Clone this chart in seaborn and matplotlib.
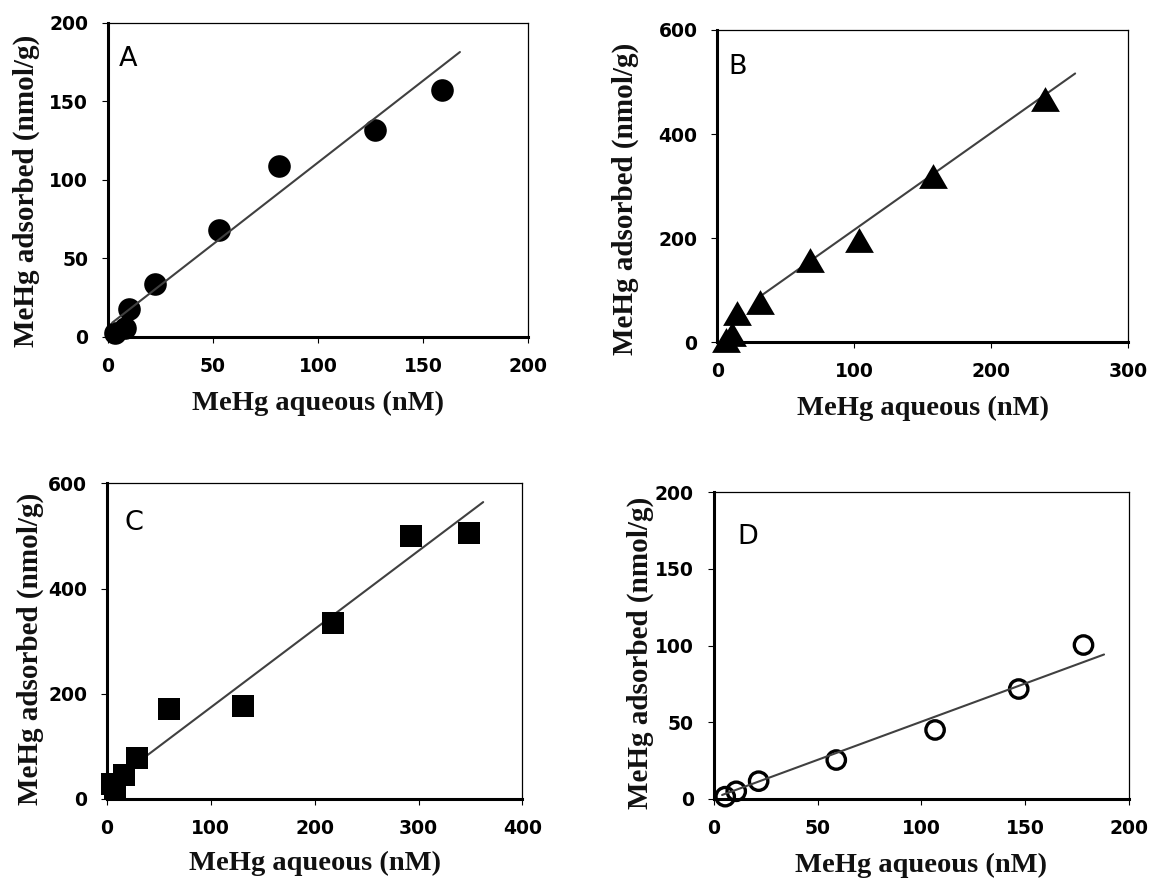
import numpy as np
import pandas as pd
import matplotlib
matplotlib.use("Agg")
import matplotlib.pyplot as plt
from matplotlib.path import Path
import seaborn as sns

# ---------------- data ----------------
a_x = [3.3, 8.3, 9.8, 22.6, 52.8, 81.5, 127.3, 159.3]
a_y = [2.5, 5.6, 17.6, 33.9, 68.2, 109.1, 131.8, 157.2]
a_fit = [1.04, 7.0]          # slope, intercept
a_fit_x = [2.0, 167.6]

b_x = [6.0, 11.0, 14.5, 31.1, 67.5, 103.8, 157.3, 239.7]
b_y = [5.0, 15.0, 56.0, 78.1, 157.5, 196.6, 319.5, 466.5]
b_fit = [1.86, 30.0]
b_fit_x = [31.0, 261.5]

c_x = [5.0, 8.0, 16.7, 28.6, 60.2, 130.7, 217.4, 293.0, 348.1]
c_y = [28.0, 19.0, 45.6, 77.5, 171.1, 176.8, 335.2, 499.0, 506.2]
c_fit = [1.488, 25.3]
c_fit_x = [28.6, 362.2]

d_x = [5.5, 10.8, 21.6, 59.0, 106.6, 146.9, 178.1]
d_y = [1.5, 5.0, 11.6, 25.4, 45.0, 71.7, 100.4]
d_fit = [0.498, 0.6]
d_fit_x = [4.0, 188.0]

panel_letters = ["A", "B", "C", "D"]
x_label = "MeHg aqueous (nM)"
y_label = "MeHg adsorbed (nmol/g)"
a_xticks = [0, 50, 100, 150, 200]
a_yticks = [0, 50, 100, 150, 200]
b_xticks = [0, 100, 200, 300]
b_yticks = [0, 200, 400, 600]
c_xticks = [0, 100, 200, 300, 400]
c_yticks = [0, 200, 400, 600]
d_xticks = [0, 50, 100, 150, 200]
d_yticks = [0, 50, 100, 150, 200]

# ---------------- style ----------------
sns.set_theme(style="ticks")
plt.rcParams['font.family'] = ['DejaVu Sans']

tri = Path([(0, 0.86), (-1, -0.86), (1, -0.86), (0, 0.86)],
           [Path.MOVETO, Path.LINETO, Path.LINETO, Path.CLOSEPOLY])

panels = [
    dict(letter=panel_letters[0], x=a_x, y=a_y, fit=a_fit, fit_x=a_fit_x,
         xticks=a_xticks, yticks=a_yticks,
         rect=[0.0939, 0.6188, 0.3652, 0.3556],
         marker="o", s=265, filled=True, line_z=3,
         letter_pos=(0.026, 0.884), ylab=(-0.163, 0.465), xlab=(0.5, -0.172)),
    dict(letter=panel_letters[1], x=b_x, y=b_y, fit=b_fit, fit_x=b_fit_x,
         xticks=b_xticks, yticks=b_yticks,
         rect=[0.6238, 0.6128, 0.3569, 0.3533],
         marker=tri, s=430, filled=True, line_z=1,
         letter_pos=(0.026, 0.881), ylab=(-0.190, 0.46), xlab=(0.5, -0.172)),
    dict(letter=panel_letters[2], x=c_x, y=c_y, fit=c_fit, fit_x=c_fit_x,
         xticks=c_xticks, yticks=c_yticks,
         rect=[0.0930, 0.0962, 0.3613, 0.3571],
         marker="s", s=265, filled=True, line_z=1,
         letter_pos=(0.042, 0.874), ylab=(-0.152, 0.475), xlab=(0.5, -0.164)),
    dict(letter=panel_letters[3], x=d_x, y=d_y, fit=d_fit, fit_x=d_fit_x,
         xticks=d_xticks, yticks=d_yticks,
         rect=[0.6207, 0.0962, 0.3610, 0.3469],
         marker="o", s=175, filled=False, line_z=3,
         letter_pos=(0.057, 0.853), ylab=(-0.145, 0.478), xlab=(0.5, -0.175)),
]

fig = plt.figure(figsize=(11.5, 8.84), dpi=100)

for p in panels:
    ax = fig.add_axes(p["rect"])
    df = pd.DataFrame({"x": p["x"], "y": p["y"]})
    if p["filled"]:
        sns.scatterplot(data=df, x="x", y="y", ax=ax, marker=p["marker"], s=p["s"],
                        color="black", edgecolor="black", linewidth=0,
                        clip_on=False, zorder=2)
    else:
        sns.scatterplot(data=df, x="x", y="y", ax=ax, marker=p["marker"], s=p["s"],
                        facecolor="none", edgecolor="black", linewidth=2.4,
                        clip_on=False, zorder=2)
        for coll in ax.collections:
            coll.set_facecolor("none")
            coll.set_edgecolor("black")
    slope, intercept = p["fit"]
    fx = np.array(p["fit_x"])
    fit_df = pd.DataFrame({"x": fx, "y": slope * fx + intercept})
    sns.lineplot(data=fit_df, x="x", y="y", ax=ax, color="#404040", linewidth=1.5,
                 estimator=None, sort=False, zorder=p["line_z"])

    ax.set_xlim(p["xticks"][0], p["xticks"][-1])
    ax.set_ylim(p["yticks"][0], p["yticks"][-1])
    ax.set_xticks(p["xticks"])
    ax.set_yticks(p["yticks"])
    ax.tick_params(axis="both", direction="out", length=4.3, width=0.8,
                   color="black", labelsize=13.5, labelcolor="black")
    ax.tick_params(axis="x", pad=10.0)
    ax.tick_params(axis="y", pad=10.0)
    for lbl in ax.get_xticklabels() + ax.get_yticklabels():
        lbl.set_fontweight("bold")
        lbl.set_fontfamily("DejaVu Sans")

    for side in ["left", "bottom"]:
        ax.spines[side].set_linewidth(2.2)
        ax.spines[side].set_color("black")
    for side in ["top", "right"]:
        ax.spines[side].set_visible(True)
        ax.spines[side].set_linewidth(0.9)
        ax.spines[side].set_color("black")

    ax.set_xlabel(x_label, fontsize=20.5, fontweight="bold",
                  family="Liberation Serif", color="#111111")
    ax.set_ylabel(y_label, fontsize=21, fontweight="bold",
                  family="Liberation Serif", color="#111111")
    ax.xaxis.set_label_coords(*p["xlab"])
    ax.yaxis.set_label_coords(*p["ylab"])

    ax.text(p["letter_pos"][0], p["letter_pos"][1], p["letter"], transform=ax.transAxes,
            ha="left", va="center", fontsize=19.5, color="black", family="DejaVu Sans")
    ax.set_facecolor("white")

fig.savefig("out.png", dpi=100, facecolor="white")
